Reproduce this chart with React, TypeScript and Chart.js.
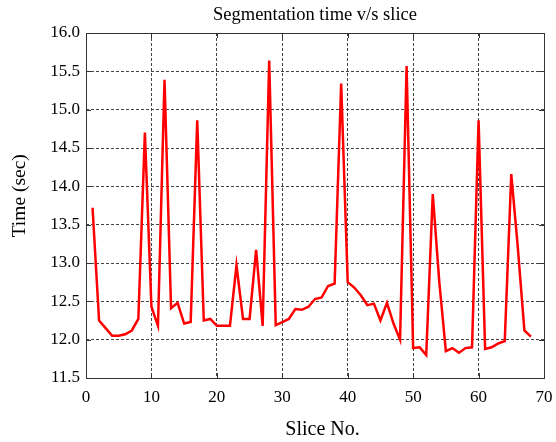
import React, { useEffect, useRef } from "react";
import { Chart, registerables } from "chart.js";

Chart.register(...registerables);

const sliceNumbers = [
  1, 2, 3, 4, 5, 6, 7, 8, 9, 10, 11, 12, 13, 14, 15, 16, 17, 18, 19, 20,
  21, 22, 23, 24, 25, 26, 27, 28, 29, 30, 31, 32, 33, 34, 35, 36, 37, 38, 39, 40,
  41, 42, 43, 44, 45, 46, 47, 48, 49, 50, 51, 52, 53, 54, 55, 56, 57, 58, 59, 60,
  61, 62, 63, 64, 65, 66, 67, 68,
];

const segmentationTimes = [
  13.72, 12.25, 12.15, 12.05, 12.05, 12.07, 12.12, 12.27, 14.7, 12.43,
  12.18, 15.39, 12.41, 12.48, 12.21, 12.23, 14.86, 12.25, 12.27, 12.18,
  12.18, 12.18, 12.97, 12.27, 12.27, 13.17, 12.18, 15.64, 12.19, 12.23,
  12.27, 12.4, 12.39, 12.43, 12.53, 12.55, 12.7, 12.73, 15.34, 12.75,
  12.68, 12.58, 12.45, 12.47, 12.25, 12.48, 12.21, 12.0, 15.57, 11.89,
  11.9, 11.8, 13.9, 12.75, 11.85, 11.89, 11.83, 11.89, 11.9, 14.86,
  11.88, 11.9, 11.95, 11.98, 14.16, 13.2, 12.12, 12.04,
];

const xTicks = [0, 10, 20, 30, 40, 50, 60, 70];
const yTicks = [11.5, 12.0, 12.5, 13.0, 13.5, 14.0, 14.5, 15.0, 15.5, 16.0];

const titleText = "Segmentation time v/s slice";
const xTitle = "Slice No.";
const yTitle = "Time (sec)";

const SERIF = "'Liberation Serif', 'Times New Roman', serif";

const framePlugin = {
  id: "frame",
  afterDraw(chart: any) {
    const { ctx, chartArea } = chart;
    const { left, right, top, bottom } = chartArea;
    const xs = chart.scales.x;
    const ys = chart.scales.y;
    ctx.save();
    ctx.strokeStyle = "#333333";
    ctx.lineWidth = 1;
    ctx.setLineDash([]);
    const tl = 5;
    ctx.beginPath();
    xTicks.forEach((v) => {
      const px = Math.round(xs.getPixelForValue(v)) + 0.5;
      ctx.moveTo(px, bottom);
      ctx.lineTo(px, bottom - tl);
      ctx.moveTo(px, top);
      ctx.lineTo(px, top + tl);
    });
    yTicks.forEach((v) => {
      const py = Math.round(ys.getPixelForValue(v)) + 0.5;
      ctx.moveTo(left, py);
      ctx.lineTo(left + tl, py);
      ctx.moveTo(right, py);
      ctx.lineTo(right - tl, py);
    });
    ctx.stroke();
    ctx.strokeRect(
      Math.round(left) + 0.5,
      Math.round(top) + 0.5,
      Math.round(right - left),
      Math.round(bottom - top)
    );
    ctx.restore();
  },
};

export default function App() {
  const canvasRef = useRef<HTMLCanvasElement | null>(null);

  useEffect(() => {
    if (!canvasRef.current) return;
    const chart = new Chart(canvasRef.current, {
      type: "line",
      data: {
        datasets: [
          {
            data: sliceNumbers.map((x, i) => ({ x, y: segmentationTimes[i] })),
            borderColor: "#ff0000",
            borderWidth: 2.5,
            pointRadius: 0,
            tension: 0,
            fill: false,
          },
        ],
      },
      options: {
        animation: false,
        responsive: false,
        devicePixelRatio: 1,
        layout: { padding: { left: 0, right: 12, top: 0, bottom: 0 } },
        plugins: {
          legend: { display: false },
          tooltip: { enabled: false },
          title: {
            display: true,
            fullSize: false,
            text: titleText,
            color: "#000",
            font: { family: SERIF, size: 18.5, weight: "normal" },
            padding: { top: 4, bottom: 6.8 },
          },
        },
        scales: {
          x: {
            type: "linear",
            min: 0,
            max: 70,
            afterBuildTicks: (scale: any) => {
              scale.ticks = xTicks.map((v) => ({ value: v }));
            },
            afterFit: (scale: any) => {
              scale.height = 64;
              scale.paddingLeft = 0;
              scale.paddingRight = 0;
            },
            ticks: {
              color: "#000",
              font: { family: SERIF, size: 17 },
              padding: 9,
              maxRotation: 0,
              callback: (v: any) => String(v),
            },
            grid: {
              color: "#444",
              lineWidth: 1,
              drawTicks: false,
            },
            border: { display: false, dash: [3, 2] },
            title: {
              display: true,
              text: "   " + xTitle,
              color: "#000",
              font: { family: SERIF, size: 20 },
              padding: { top: 0, bottom: 0 },
            },
          },
          y: {
            type: "linear",
            min: 11.5,
            max: 16,
            afterBuildTicks: (scale: any) => {
              scale.ticks = yTicks.map((v) => ({ value: v }));
            },
            afterFit: (scale: any) => {
              scale.width = 86;
              scale.paddingTop = 0;
              scale.paddingBottom = 0;
            },
            ticks: {
              color: "#000",
              font: { family: SERIF, size: 17 },
              padding: 6,
              callback: (v: any) => Number(v).toFixed(1),
            },
            grid: {
              color: "#444",
              lineWidth: 1,
              drawTicks: false,
            },
            border: { display: false, dash: [3, 2] },
            title: {
              display: true,
              text: "    " + yTitle,
              color: "#000",
              font: { family: SERIF, size: 19.5 },
              padding: { top: 8, bottom: 0 },
            },
          },
        },
      },
      plugins: [framePlugin],
    } as any);
    return () => chart.destroy();
  }, []);

  return (
    <div style={{ position: "absolute", left: 0, top: 0, width: 556, height: 442, background: "#fff" }}>
      <canvas ref={canvasRef} width={556} height={442} />
    </div>
  );
}
